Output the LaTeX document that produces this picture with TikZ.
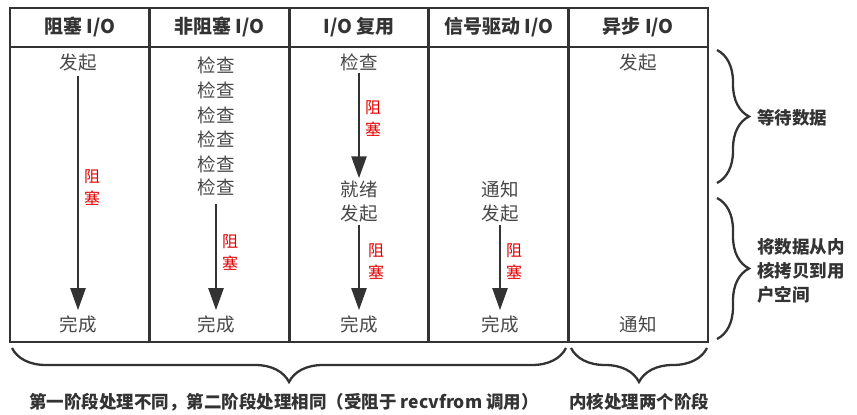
\documentclass[tikz,border=0pt]{standalone}
\usepackage{fontspec}
\setmainfont{Noto Sans CJK SC}
\usetikzlibrary{arrows.meta,positioning,decorations.pathreplacing}
\definecolor{ink}{HTML}{333333}
\definecolor{blockred}{HTML}{E00000}

\begin{document}
\begin{tikzpicture}[x=1pt,y=1pt,node distance=3.5mm,>={Triangle[width=15pt,length=22pt]}]
\tikzset{
  head/.style={font=\bfseries\fontsize{19}{19}\selectfont,text=ink},
  word/.style={font=\fontsize{18.5}{18.5}\selectfont,text=ink!90,inner sep=1pt},
  block/.style={font=\fontsize{16}{22}\selectfont,text=blockred,align=center,inner sep=0pt},
  wait/.style={->,line width=2.5pt,draw=ink,fill=ink},
  grid/.style={line width=2.8pt,draw=ink},
  brace/.style={decorate,decoration={brace,amplitude=#1},line width=2.3pt,draw=ink},
  note/.style={font=\bfseries\fontsize{17.5}{24}\selectfont,text=ink,align=left,inner sep=0pt}
}
\useasboundingbox (0,0) rectangle (857,-415);

% table
\draw[grid] (10,-8) rectangle (708,-342);
\draw[grid] (10,-47) -- (708,-47)
  (149.6,-8) -- (149.6,-342) (289.2,-8) -- (289.2,-342)
  (428.8,-8) -- (428.8,-342) (568.4,-8) -- (568.4,-342);

\node[head] (h1) at (79.8,-27) {阻塞 I/O};
\node[head] (h2) at (219.4,-27) {非阻塞 I/O};
\node[head] (h3) at (359,-27) {I/O 复用};
\node[head] (h4) at (498.6,-27) {信号驱动 I/O};
\node[head] (h5) at (638.2,-27) {异步 I/O};

% blocking
\node[word] (a1) at (78,-63) {发起};
\node[word] (a2) at (78,-324) {完成};
\draw[wait,shorten <=3pt,shorten >=4pt] (a1) -- (a2);
\node[block] (r1) at (92,-188) {阻\\塞};

% non-blocking
\node[word] (b1) at (216,-65) {检查};
\node[word] (b2) at (216,-90) {检查};
\node[word] (b3) at (216,-115) {检查};
\node[word] (b4) at (216,-139) {检查};
\node[word] (b5) at (216,-164) {检查};
\node[word] (b6) at (216,-187) {检查};
\node[word] (b7) at (216,-324) {完成};
\draw[wait,shorten <=7pt,shorten >=4pt] (b6) -- (b7);
\node[block] (r2) at (230,-253) {阻\\塞};

% multiplexing
\node[word] (c1) at (359,-62) {检查};
\node[word] (c2) at (359,-189) {就绪};
\node[word] (c3) at (359,-214) {发起};
\node[word] (c4) at (359,-324) {完成};
\draw[wait,shorten <=1pt,shorten >=1pt] (c1) -- (c2);
\draw[wait,shorten <=1pt,shorten >=4pt] (c3) -- (c4);
\node[block] (r3) at (373,-119) {阻\\塞};
\node[block] (r4) at (376,-262) {阻\\塞};

% signal driven
\node[word] (d1) at (500,-189) {通知};
\node[word] (d2) at (500,-214) {发起};
\node[word] (d3) at (500,-324) {完成};
\draw[wait,shorten <=1pt,shorten >=4pt] (d2) -- (d3);
\node[block] (r5) at (514,-262) {阻\\塞};

% asynchronous
\node[word] (e1) at (638,-63) {发起};
\node[word] (e2) at (638,-324) {通知};

% braces
\draw[brace=32pt] (717,-50) -- (717,-183);
\draw[brace=32pt] (717,-198) -- (717,-339);
\draw[brace=34pt] (566,-348) -- (12,-348);
\draw[brace=34pt] (707,-348) -- (571,-348);

\node[note,anchor=west] (n1) at (757,-118) {等待数据};
\node[note,anchor=west] (n2) at (757,-271) {将数据从内\\核拷贝到用\\户空间};
\node[note] (n3) at (284,-402) {第一阶段处理不同，第二阶段处理相同（受阻于 recvfrom 调用）};
\node[note] (n4) at (639,-402) {内核处理两个阶段};
\end{tikzpicture}
\end{document}
